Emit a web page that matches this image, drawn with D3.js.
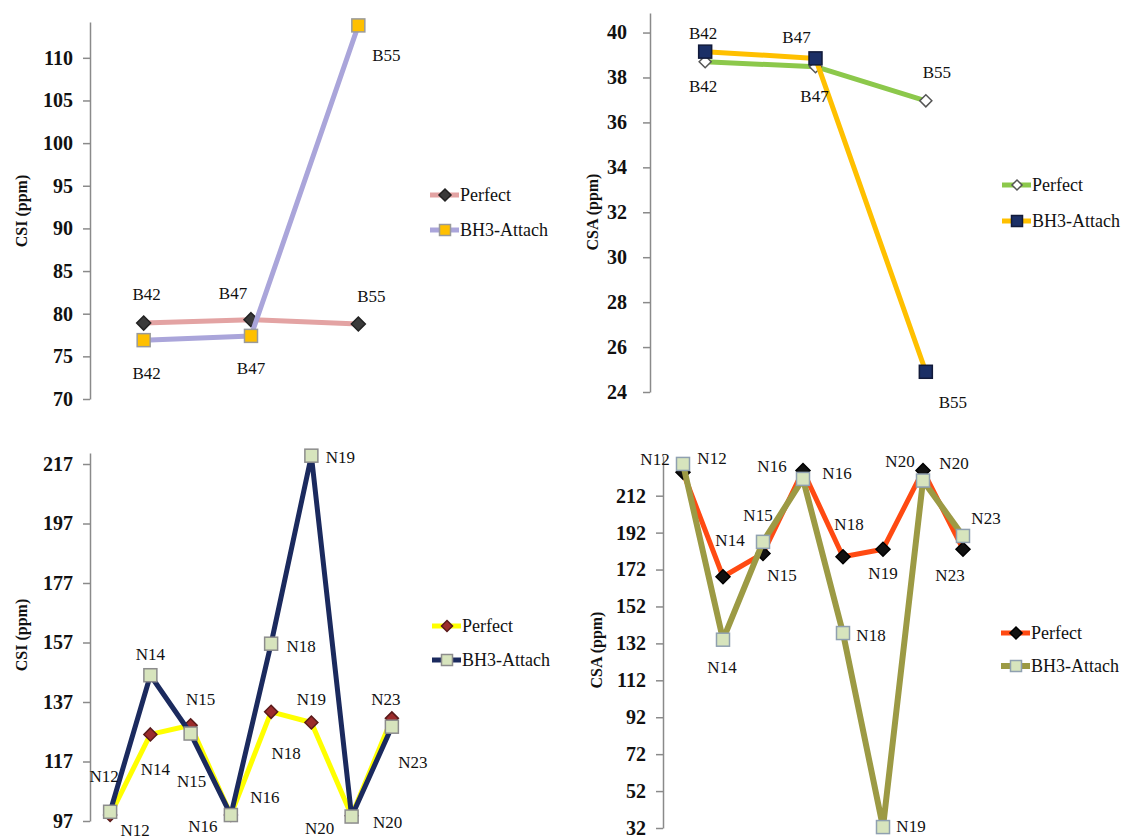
<!DOCTYPE html>
<html>
<head>
<meta charset="utf-8">
<script src="https://cdn.jsdelivr.net/npm/d3@7"></script>
<style>
  body { margin: 0; background: #fff; }
  svg text { font-family: "Liberation Serif", "DejaVu Serif", "Noto Serif", "Tinos", "Times New Roman", serif; fill: #111; }
</style>
</head>
<body>
<div id="content"></div>
<script>
// categories
const bSites = ["B42", "B47", "B55"];
const nSites = ["N12", "N14", "N15", "N16", "N18", "N19", "N20", "N23"];

// series values (ppm)
const csiBPerfect = [78.9, 79.3, 78.8];
const csiBAttach = [76.9, 77.4, 113.8];
const csaBPerfect = [38.70, 38.48, 36.96];
const csaBAttach = [39.15, 38.85, 24.9];
const csiNPerfect = [99, 126.1, 129.2, 99, 133.7, 130.1, 98.8, 131.5];
const csiNAttach = [100.1, 146, 126.4, 99, 156.6, 219.8, 98.5, 128.7];
const csaNPerfect = [224.7, 168.1, 180.7, 225.6, 178.9, 183, 225.6, 183];
const csaNAttach = [229.2, 134, 187, 221.1, 137.6, 32.5, 220.2, 190.2];

// tick labels
const csiBTicks = [70, 75, 80, 85, 90, 95, 100, 105, 110];
const csaBTicks = [24, 26, 28, 30, 32, 34, 36, 38, 40];
const csiNTicks = [97, 117, 137, 157, 177, 197, 217];
const csaNTicks = [32, 52, 72, 92, 112, 132, 152, 172, 192, 212];

const seriesNames = ["Perfect", "BH3-Attach"];

const serif = "'Liberation Serif', 'DejaVu Serif', 'Noto Serif', Tinos, serif";

const svg = d3.select("#content")
    .append("svg")
    .attr("width", 1124)
    .attr("height", 840);

// data label nudges (dx, dy from the point), one per point
const nudge = {
    p1a: [[3, -29], [-18, -26], [13, -27]],
    p1b: [[3, 33], [0, 33], [28, 30]],
    p2a: [[-2, 25], [-1, 30], [11, -28]],
    p2b: [[-2, -18], [-19, -21], [27, 31]],
    p3a: [[25, 15], [5, 35], [10, -26], [-28, 11], [15, 42], [0, -23], [-32, 13], [-6, -19]],
    p3b: [[-6, -35], [0, -21], [1, 48], [34, -18], [30, 3], [29, 2], [36, 6], [21, 36]],
    p4a: [[-28, -13], [7, -36], [19, 22], [-31, -4], [6, -32], [0, 24], [-23, -9], [-13, 26]],
    p4b: [[29, -5], [-1, 28], [-5, -26], [34, -5], [28, 2], [28, -1], [31, -17], [23, -17]]
};

function drawMarker(g, type, cx, cy, st)
{
    if (type == "diamond") {
        let r = st.size / 2;
        g.append("path")
            .attr("d", `M${cx},${cy - r}L${cx + r},${cy}L${cx},${cy + r}L${cx - r},${cy}Z`)
            .attr("fill", st.fill)
            .attr("stroke", st.stroke)
            .attr("stroke-width", 1.5);
    } else {
        g.append("rect")
            .attr("x", cx - st.size / 2)
            .attr("y", cy - st.size / 2)
            .attr("width", st.size)
            .attr("height", st.size)
            .attr("fill", st.fill)
            .attr("stroke", st.stroke)
            .attr("stroke-width", 1.5);
    }
}

function drawPanel(p)
{
    let g = svg.append("g");

    let x = d3.scalePoint()
        .domain(p.cats)
        .range(p.xRange)
        .padding(0.5);

    let y = d3.scaleLinear()
        .domain(p.yDomain)
        .range(p.yRange);

    // y axis only, no x axis in the original
    let axis = g.append("g")
        .attr("transform", "translate(" + p.xRange[0] + ",0)")
        .call(d3.axisLeft(y)
            .tickValues(p.ticks)
            .tickSize(7)
            .tickPadding(p.tickPad)
            .tickSizeOuter(0));
    axis.attr("font-family", serif);
    axis.select(".domain").attr("stroke", "#8a8a8a").attr("stroke-width", 1.5);
    axis.selectAll(".tick line").attr("stroke", "#8a8a8a").attr("stroke-width", 1.5);
    axis.selectAll(".tick text")
        .attr("fill", "#111")
        .style("font-size", "20px")
        .style("font-weight", "bold")
        .style("font-family", serif);

    g.append("text")
        .attr("transform", `translate(${p.titlePos[0]},${p.titlePos[1]}) rotate(-90)`)
        .attr("text-anchor", "middle")
        .attr("dominant-baseline", "central")
        .style("font-size", "16px")
        .style("font-weight", "bold")
        .text(p.title);

    const line = d3.line()
        .x((d, i) => x(p.cats[i]))
        .y(d => y(d));

    p.series.forEach(function(s) {
        g.append("path")
            .datum(s.values)
            .attr("fill", "none")
            .attr("stroke", s.line)
            .attr("stroke-width", s.width)
            .attr("stroke-linejoin", "round")
            .attr("d", line);
        s.values.forEach(function(v, i) {
            drawMarker(g, s.marker, x(p.cats[i]), y(v), s);
        });
    });

    p.series.forEach(function(s) {
        s.values.forEach(function(v, i) {
            g.append("text")
                .attr("x", x(p.cats[i]) + s.nudge[i][0])
                .attr("y", y(v) + s.nudge[i][1])
                .attr("text-anchor", "middle")
                .attr("dominant-baseline", "central")
                .style("font-size", "17px")
                .text(p.cats[i]);
        });
    });

    // legend
    p.series.forEach(function(s, k) {
        let ly = p.legend.y[k];
        g.append("line")
            .attr("x1", p.legend.x).attr("x2", p.legend.x + 29)
            .attr("y1", ly).attr("y2", ly)
            .attr("stroke", s.line)
            .attr("stroke-width", s.width);
        drawMarker(g, s.marker, p.legend.x + 15, ly, {fill: s.fill, stroke: s.stroke, size: s.size - 2});
        g.append("text")
            .attr("x", p.legend.x + 30)
            .attr("y", ly)
            .attr("dominant-baseline", "central")
            .style("font-size", "18px")
            .text(seriesNames[k]);
    });
}

drawPanel({
    cats: bSites,
    xRange: [90, 412], yDomain: [70, 114.2], yRange: [399, 22],
    ticks: csiBTicks, tickPad: 10,
    title: "CSI (ppm)", titlePos: [21, 211],
    legend: {x: 430, y: [195, 230]},
    series: [
        {values: csiBPerfect, line: "#e3a3a3", width: 5, marker: "diamond", fill: "#3a3a3a", stroke: "#222", size: 14, nudge: nudge.p1a},
        {values: csiBAttach, line: "#aaa5da", width: 5, marker: "square", fill: "#ffc000", stroke: "#9a9a9a", size: 13, nudge: nudge.p1b}
    ]
});

drawPanel({
    cats: bSites,
    xRange: [650, 981], yDomain: [24, 40.87], yRange: [392, 13],
    ticks: csaBTicks, tickPad: 16,
    title: "CSA (ppm)", titlePos: [592, 212],
    legend: {x: 1002, y: [185, 221]},
    series: [
        {values: csaBPerfect, line: "#8cc84b", width: 5, marker: "diamond", fill: "#ffffff", stroke: "#555", size: 12, nudge: nudge.p2a},
        {values: csaBAttach, line: "#ffc000", width: 5, marker: "square", fill: "#1b2f66", stroke: "#111a3a", size: 13, nudge: nudge.p2b}
    ]
});

drawPanel({
    cats: nSites,
    xRange: [90, 412], yDomain: [97, 220.7], yRange: [821, 453],
    ticks: csiNTicks, tickPad: 10,
    title: "CSI (ppm)", titlePos: [21, 635],
    legend: {x: 432, y: [626, 660]},
    series: [
        {values: csiNPerfect, line: "#ffff00", width: 5, marker: "diamond", fill: "#9b2c2c", stroke: "#5a1a1a", size: 13, nudge: nudge.p3a},
        {values: csiNAttach, line: "#1b2a5e", width: 5, marker: "square", fill: "#d7e4bd", stroke: "#8c8c8c", size: 13, nudge: nudge.p3b}
    ]
});

drawPanel({
    cats: nSites,
    xRange: [663, 983], yDomain: [32, 233.5], yRange: [828, 456],
    ticks: csaNTicks, tickPad: 10,
    title: "CSA (ppm)", titlePos: [596, 650],
    legend: {x: 1001, y: [633, 666]},
    series: [
        {values: csaNPerfect, line: "#ff4a12", width: 5, marker: "diamond", fill: "#111", stroke: "#000", size: 14, nudge: nudge.p4a},
        {values: csaNAttach, line: "#9c9a44", width: 6, marker: "square", fill: "#d7e4bd", stroke: "#8fa0b0", size: 13, nudge: nudge.p4b}
    ]
});
</script>
</body>
</html>
